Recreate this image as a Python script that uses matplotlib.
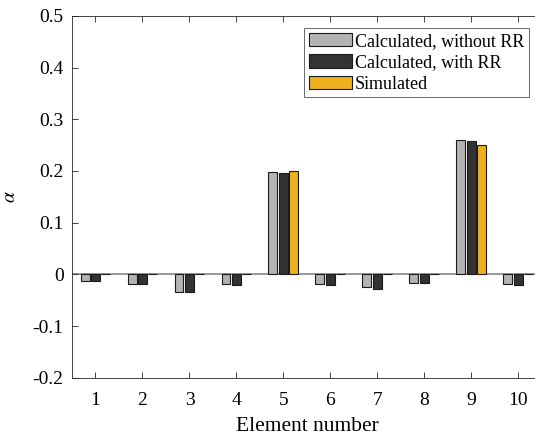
import matplotlib
matplotlib.use('Agg')
import matplotlib.pyplot as plt
import numpy as np

elements = [1, 2, 3, 4, 5, 6, 7, 8, 9, 10]
calc_without_rr = [-0.013, -0.018, -0.035, -0.018, 0.198, -0.018, -0.024, -0.017, 0.260, -0.019]
calc_with_rr = [-0.013, -0.018, -0.034, -0.021, 0.196, -0.021, -0.029, -0.016, 0.257, -0.021]
simulated = [0, 0, 0, 0, 0.200, 0, 0, 0, 0.250, 0]
labels = ['Calculated, without RR', 'Calculated, with RR', 'Simulated']
colors = ['#b3b3b3', '#333333', '#edb120']


def plot():
    plt.rcParams['font.family'] = ['Liberation Serif', 'DejaVu Serif']
    plt.rcParams['mathtext.fontset'] = 'stix'
    plt.rcParams['axes.unicode_minus'] = False

    fig = plt.figure(figsize=(5.35, 4.38), dpi=100)
    ax = fig.add_axes([0.1346, 0.1377, 0.878, 0.826])

    x = np.array(elements)
    off = 0.222
    w = 0.19
    series = [calc_without_rr, calc_with_rr, simulated]
    ax.axhline(0, color='#888888', lw=1.2, zorder=1)
    for i, (vals, lab, col) in enumerate(zip(series, labels, colors)):
        ax.bar(x + (i - 1) * off, vals, w, color=col, edgecolor='#1a1a1a',
               linewidth=0.8, label=lab, zorder=2)

    ax.set_xlim(0.5, 10.5)
    ax.set_ylim(-0.2, 0.5)
    ax.set_xticks(elements)
    yt = np.arange(-0.2, 0.51, 0.1)
    ax.set_yticks(yt)
    ax.set_yticklabels(['%g' % round(v, 1) for v in yt])
    ax.tick_params(direction='in', top=True, right=False, length=4,
                   labelsize=14, color='#262626', width=0.6)
    ax.tick_params(axis='y', pad=6)
    ax.tick_params(axis='x', pad=10.5)
    ax.spines['right'].set_visible(False)
    for s in ax.spines.values():
        s.set_color('#262626')
        s.set_linewidth(0.6)

    ax.set_xlabel('Element number', fontsize=15.5, labelpad=5.5)
    ax.set_ylabel(r'$\alpha$', fontsize=14)
    ax.yaxis.set_label_coords(-0.112, 0.5)

    leg = ax.legend(loc='upper right', bbox_to_anchor=(0.973, 0.967), fontsize=13,
                    frameon=True, fancybox=False, edgecolor='#262626',
                    handlelength=2.4, handleheight=0.78, handletextpad=0.15,
                    borderpad=0.26, labelspacing=0.25, borderaxespad=0)
    leg.get_frame().set_linewidth(0.6)

    fig.savefig('out.png', dpi=100)


if __name__ == '__main__':
    plot()
